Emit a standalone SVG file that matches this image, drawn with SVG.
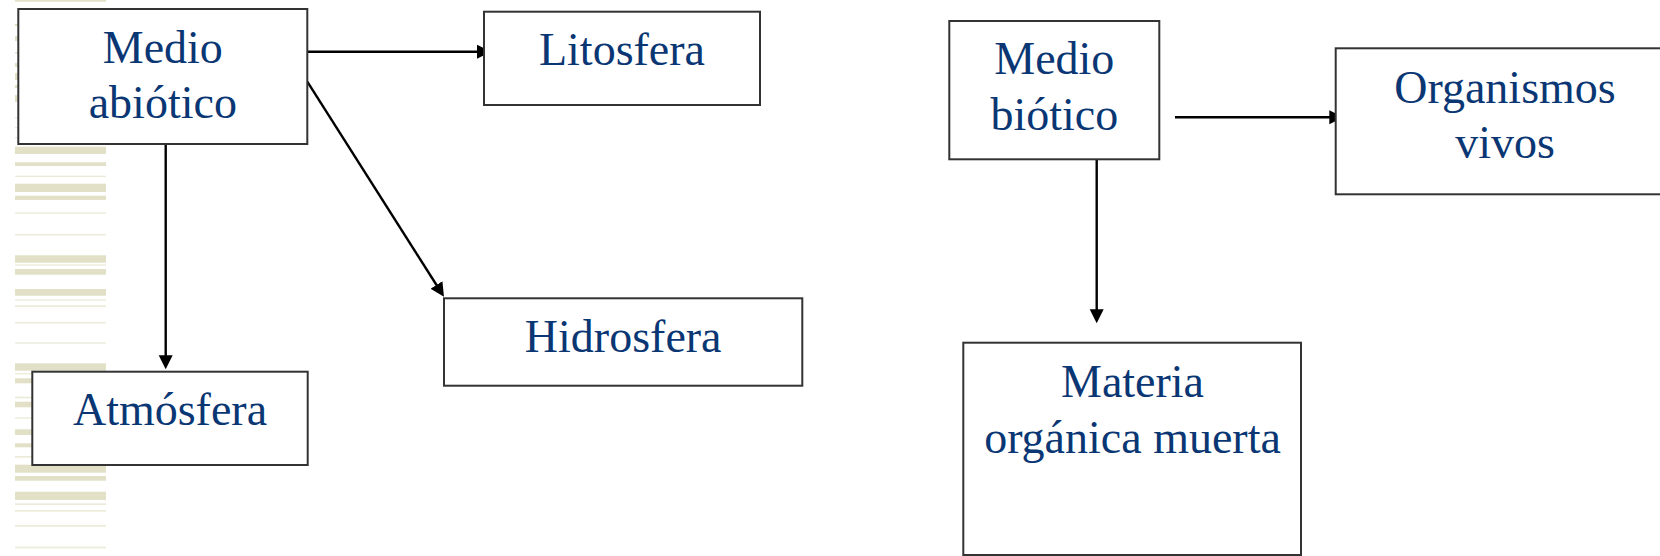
<svg xmlns="http://www.w3.org/2000/svg" width="1660" height="556" viewBox="0 0 1660 556">
<style>
.bg{fill:#ffffff}
.sk{fill:#e2e0c7}
.sn{fill:#ecebda}
.box{fill:#ffffff;stroke:#333333;stroke-width:2}
.lbl{font-family:"Liberation Serif","Times New Roman",serif;font-size:46px;fill:#0a3774;text-anchor:middle}
.cn{stroke:#000000;stroke-width:2.4;fill:none;marker-end:url(#ah)}
</style>
<defs>
<marker id="ah" markerUnits="userSpaceOnUse" markerWidth="16" markerHeight="16" refX="3" refY="7" orient="auto" viewBox="0 0 16 16">
<path d="M0,0 L14,7 L0,14 z" fill="#000000"/>
</marker>
</defs>
<rect class="bg" x="0" y="0" width="1660" height="556"/>
<g id="stripes">
<rect class="sk" x="15" y="0" width="91" height="1.7"/>
<rect class="sk" x="15" y="24" width="4" height="2"/>
<rect class="sk" x="15" y="36" width="4" height="5"/>
<rect class="sk" x="15" y="52" width="4" height="1.5"/>
<rect class="sk" x="15" y="63" width="4" height="4"/>
<rect class="sk" x="15" y="73" width="4" height="7"/>
<rect class="sk" x="15" y="85" width="4" height="3"/>
<rect class="sk" x="15" y="95" width="4" height="7"/>
<rect class="sn" x="15" y="117" width="4" height="1.4"/>
<rect class="sn" x="15" y="127" width="4" height="1.4"/>
<rect class="sn" x="15" y="137" width="4" height="1.4"/>
<rect class="sk" x="15" y="146.7" width="91" height="7.3"/>
<rect class="sk" x="15" y="162.3" width="91" height="3.7"/>
<rect class="sn" x="15" y="175.7" width="91" height="1.4"/>
<rect class="sk" x="15" y="183.7" width="91" height="8.3"/>
<rect class="sk" x="15" y="195.7" width="91" height="4.3"/>
<rect class="sn" x="15" y="212.3" width="91" height="1.4"/>
<rect class="sn" x="15" y="234" width="91" height="1.4"/>
<rect class="sk" x="15" y="255.3" width="91" height="7.4"/>
<rect class="sn" x="15" y="264.3" width="91" height="1.4"/>
<rect class="sk" x="15" y="269" width="91" height="5.7"/>
<rect class="sk" x="15" y="289" width="91" height="6.7"/>
<rect class="sn" x="15" y="299.3" width="91" height="1.4"/>
<rect class="sn" x="15" y="305.3" width="91" height="1.7"/>
<rect class="sn" x="15" y="322" width="91" height="1.4"/>
<rect class="sn" x="15" y="342.3" width="91" height="1.4"/>
<rect class="sk" x="15" y="363.3" width="91" height="7.4"/>
<rect class="sn" x="15" y="373" width="91" height="1.3"/>
<rect class="sk" x="15" y="378.3" width="91" height="5"/>
<rect class="sn" x="15" y="396.7" width="91" height="1.6"/>
<rect class="sk" x="15" y="401.7" width="91" height="5.6"/>
<rect class="sn" x="15" y="417.3" width="91" height="1.4"/>
<rect class="sk" x="15" y="429.3" width="91" height="5.7"/>
<rect class="sk" x="15" y="443.3" width="91" height="4"/>
<rect class="sn" x="15" y="456" width="91" height="1.7"/>
<rect class="sk" x="15" y="464.7" width="91" height="8"/>
<rect class="sk" x="15" y="476" width="91" height="4.7"/>
<rect class="sk" x="15" y="491.7" width="91" height="8.3"/>
<rect class="sn" x="15" y="503.3" width="91" height="1.7"/>
<rect class="sn" x="15" y="510" width="91" height="1.7"/>
<rect class="sn" x="15" y="525" width="91" height="1.7"/>
<rect class="sn" x="15" y="546.7" width="91" height="1.6"/>
</g>
<g id="connectors">
<line class="cn" x1="298.3" y1="51.7" x2="480" y2="51.7"/>
<line class="cn" x1="307.3" y1="81.7" x2="438.1" y2="287.5"/>
<line class="cn" x1="165.7" y1="144" x2="165.7" y2="358.3"/>
<line class="cn" x1="1175" y1="117.3" x2="1332.3" y2="117.3"/>
<line class="cn" x1="1096.7" y1="155" x2="1096.7" y2="312.3"/>
</g>
<g id="medio-abiotico">
<rect class="box" x="18.3" y="9" width="289" height="135"/>
<text class="lbl" x="162.8" y="62.7">Medio</text>
<text class="lbl" x="162.8" y="118.3">abiótico</text>
</g>
<g id="litosfera">
<rect class="box" x="484" y="11.7" width="276" height="93.3"/>
<text class="lbl" x="622" y="65">Litosfera</text>
</g>
<g id="hidrosfera">
<rect class="box" x="444" y="298.3" width="358.3" height="87.4"/>
<text class="lbl" x="623.2" y="352.3">Hidrosfera</text>
</g>
<g id="atmosfera">
<rect class="box" x="32.3" y="371.7" width="275.4" height="93.3"/>
<text class="lbl" x="170" y="425">Atmósfera</text>
</g>
<g id="medio-biotico">
<rect class="box" x="949.3" y="21" width="210" height="138.3"/>
<text class="lbl" x="1054.3" y="74.3">Medio</text>
<text class="lbl" x="1054.3" y="130">biótico</text>
</g>
<g id="organismos-vivos">
<rect class="box" x="1335.7" y="48.3" width="340" height="146"/>
<text class="lbl" x="1505" y="102.7">Organismos</text>
<text class="lbl" x="1505" y="158.3">vivos</text>
</g>
<g id="materia-organica-muerta">
<rect class="box" x="963.3" y="342.7" width="337.7" height="212.3"/>
<text class="lbl" x="1132.5" y="396.7">Materia</text>
<text class="lbl" x="1132.5" y="452.7">orgánica muerta</text>
</g>
</svg>
